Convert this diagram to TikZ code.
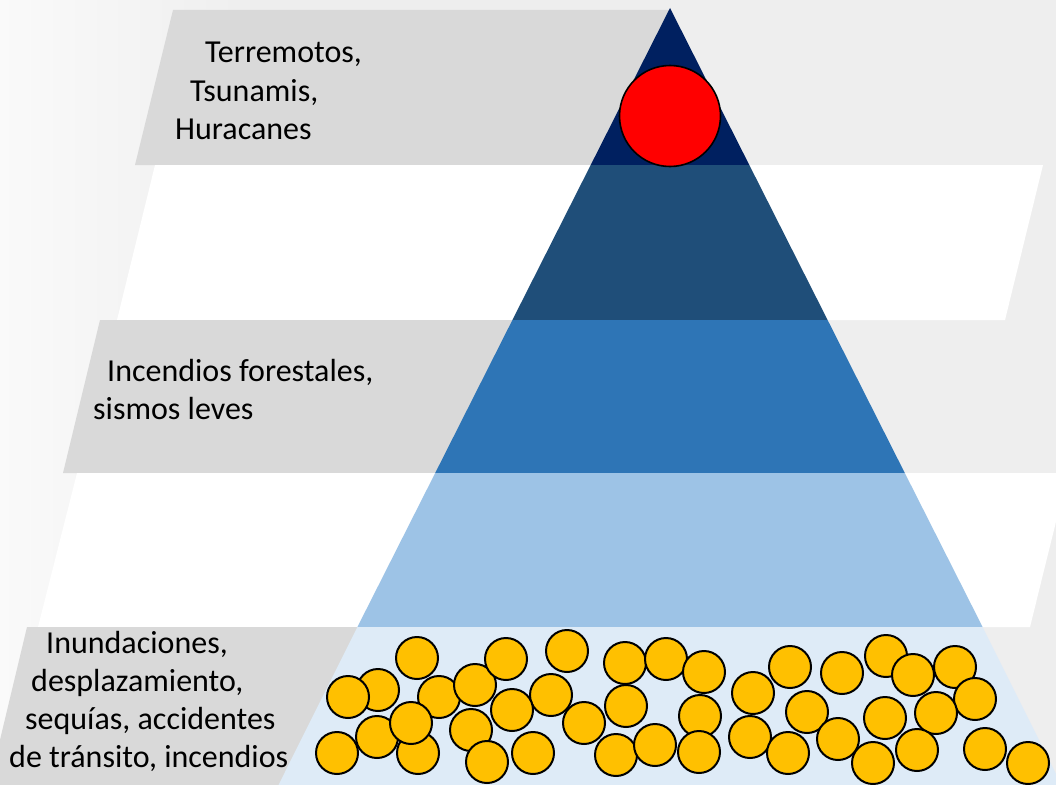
\documentclass[tikz,border=0pt]{standalone}
\usepackage{fontspec}
\setmainfont{Carlito}
\definecolor{bandgray}{HTML}{D9D9D9}
\definecolor{bggray}{HTML}{EEEEEE}
\definecolor{lvlA}{HTML}{002060}
\definecolor{lvlB}{HTML}{1F4E79}
\definecolor{lvlC}{HTML}{2E75B6}
\definecolor{lvlD}{HTML}{9DC3E6}
\definecolor{lvlE}{HTML}{DEEBF7}
\definecolor{coinyellow}{HTML}{FFC000}
\begin{document}
\begin{tikzpicture}[x=1pt,y=-1pt,
  graybox/.style={fill=bandgray},
  whitebox/.style={fill=white},
  lbl/.style={anchor=base west, inner sep=0pt, font=\fontsize{32}{38}\selectfont},
  coin/.style={circle, draw=black, line width=2pt, fill=coinyellow, minimum size=42pt, inner sep=0pt},
  bigdot/.style={circle, draw=black, line width=1.6pt, fill=red, minimum size=101pt, inner sep=0pt}
]
\useasboundingbox (0,0) rectangle (1056,784);
\clip (0,0) rectangle (1056,784);
% background
\fill[bggray] (0,0) rectangle (1056,784);
\shade[left color=white!70!bggray, right color=bggray] (0,0) rectangle (260,784);
% bands
\fill[graybox] (173,10) -- (670,10) -- (670,165) -- (135,165) -- cycle;
\fill[whitebox] (155,165) -- (1043,165) -- (1005,320) -- (117,320) -- cycle;
\fill[graybox] (100,320) -- (670,320) -- (670,473) -- (63,473) -- cycle;
\fill[whitebox] (77,473) -- (1068,473) -- (1030,627) -- (38,627) -- cycle;
\fill[graybox] (27,627) -- (670,627) -- (670,790) -- (-12,790) -- cycle;
% pyramid levels
\fill[lvlA] (670,8) -- (749.3,165) -- (590.7,165) -- cycle;
\fill[lvlB] (590.7,165) -- (749.3,165) -- (827.6,320) -- (512.4,320) -- cycle;
\fill[lvlC] (512.4,320) -- (827.6,320) -- (904.8,473) -- (435.2,473) -- cycle;
\fill[lvlD] (435.2,473) -- (904.8,473) -- (982.6,627) -- (357.4,627) -- cycle;
\fill[lvlE] (357.4,627) -- (982.6,627) -- (1064,790) -- (276,790) -- cycle;
% red circle
\node[bigdot] (top) at (670,116) {};
% coins
\foreach \x/\y [count=\i] in {
  417/658, 378/690, 348/697, 439/697, 475/685, 377/737, 418/753, 411/723, 337/753, 471/730, 487/762,
  506/659, 567/651, 625/663, 666/659, 551/695, 512/710, 584/723, 626/706, 533/753, 616/755, 655/745,
  704/672, 700/716, 699/752, 753/693, 750/737, 790/667, 807/712, 788/753, 842/673, 838/739, 873/763,
  886/656, 913/675, 955/667, 975/699, 936/713, 885/718, 917/750, 985/749, 1028/763}
  \node[coin] (c\i) at (\x,\y) {};
% labels
\node[lbl] (t1) at (205,63) {Terremotos,};
\node[lbl] (t2) at (190,101) {Tsunamis,};
\node[lbl] (t3) at (175,139) {Huracanes};
\node[lbl] (m1) at (107,381) {Incendios forestales,};
\node[lbl] (m2) at (93,419) {sismos leves};
\node[lbl] (b1) at (46,653) {Inundaciones,};
\node[lbl] (b2) at (31,691) {desplazamiento,};
\node[lbl] (b3) at (25,729) {sequías, accidentes};
\node[lbl] (b4) at (9,767) {de tránsito, incendios};
\end{tikzpicture}
\end{document}
